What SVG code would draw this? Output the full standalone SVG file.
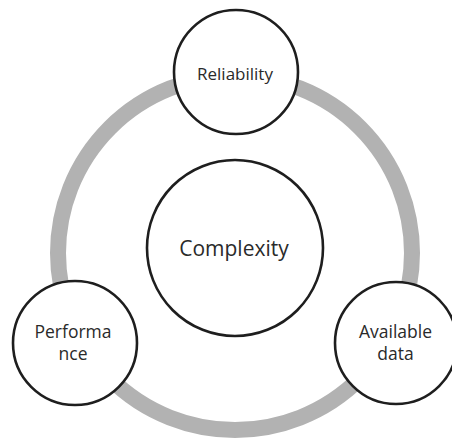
<svg xmlns="http://www.w3.org/2000/svg" width="452" height="439" viewBox="0 0 452 439">
  <style>
    .node { fill: #ffffff; stroke: #1e1e1e; stroke-width: 2.6; }
    .label { font-family: "Open Sans", "Liberation Sans", sans-serif; fill: #2a2a2a; text-anchor: middle; }
    .ring { fill: none; stroke: #b2b2b2; stroke-width: 16; }
  </style>
  <rect width="452" height="439" fill="#ffffff"/>
  <!-- grey cycle linking the three outer factors -->
  <g id="connectors">
    <circle class="ring" cx="235" cy="253" r="177"/>
  </g>
  <g id="complexity">
    <circle class="node" cx="235" cy="248" r="88"/>
    <text class="label" x="234" y="256" font-size="21">Complexity</text>
  </g>
  <g id="reliability">
    <circle class="node" cx="236" cy="72" r="62"/>
    <text class="label" x="235" y="80" font-size="17">Reliability</text>
  </g>
  <g id="performance">
    <circle class="node" cx="75" cy="343" r="62"/>
    <text class="label" x="73" y="338" font-size="17.5">Performa</text>
    <text class="label" x="73" y="360" font-size="17.5">nce</text>
  </g>
  <g id="available-data">
    <circle class="node" cx="396" cy="343" r="61"/>
    <text class="label" x="395.5" y="338" font-size="17.5">Available</text>
    <text class="label" x="395.5" y="360" font-size="17.5">data</text>
  </g>
</svg>
